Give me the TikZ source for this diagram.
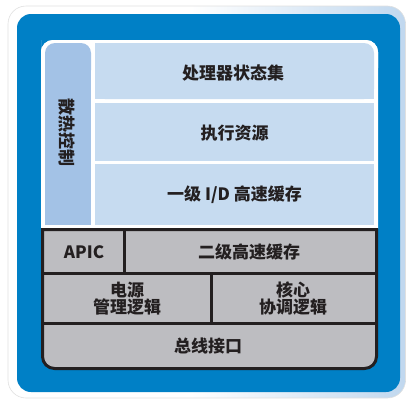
\documentclass[tikz,border=0pt]{standalone}
\usepackage{fontspec}
\setmainfont{Noto Sans CJK SC}
\usetikzlibrary{shadings}
\definecolor{bluebg}{HTML}{0080C6}
\definecolor{cellc}{HTML}{C6DBF0}
\definecolor{heatc}{HTML}{A3C2E6}
\definecolor{grayc}{HTML}{BDBDC1}
\definecolor{txt}{HTML}{231F20}
\definecolor{framec}{HTML}{86B3DF}
\pgfdeclarehorizontalshading{frameshade}{100bp}{color(0bp)=(white); color(48bp)=(white); color(100bp)=(framec)}
\tikzset{
  lbl/.style={text=txt, font=\fontsize{17}{17}\selectfont\bfseries, align=center, inner sep=0pt},
  blk/.style={draw=txt, line width=3pt},
}
\begin{document}
\begin{tikzpicture}[x=1pt,y=-1pt]
\useasboundingbox (0,0) rectangle (406,399);
% outer frame
\path[shading=frameshade, draw=black!12, line width=0.6pt, rounded corners=18] (8,6) rectangle (405.5,398);
% blue panel
\fill[bluebg, rounded corners=14] (17,14) rectangle (400,392);
% white inner (top)
\fill[white] (41,52) -- (41,229) -- (378,229) -- (378,52) [rounded corners=12] -- (378,40) -- (41,40) -- cycle;
\fill[white, rounded corners=12] (41,40) rectangle (378,80);
% heat column
\fill[heatc, rounded corners=10] (45,43) rectangle (91,80);
\fill[heatc] (45,60) rectangle (91,225);
% cells
\fill[cellc, rounded corners=10] (95,43) rectangle (374,99);
\fill[cellc] (95,43) rectangle (300,99);
\fill[cellc] (95,70) rectangle (374,99);
\path[fill=cellc] (95,103) rectangle (374,161);
\path[fill=cellc] (95,164) rectangle (374,225);
% gray section
\draw[blk, fill=grayc] (42.5,260) -- (42.5,229.5) -- (376.5,229.5) -- (376.5,260) [rounded corners=12] -- (376.5,368.5) -- (42.5,368.5) -- cycle;
\draw[blk] (42.5,273) -- (376.5,273);
\draw[blk] (42.5,323.5) -- (376.5,323.5);
\draw[blk] (124,229.5) -- (124,273);
\draw[blk] (211,273) -- (211,323.5);
% labels
\node[lbl, rotate=-90] (heat) at (67,132) {散热控制};
\node[lbl] (state) at (233,73) {处理器状态集};
\node[lbl] (exec) at (234.5,133) {执行资源};
\node[lbl] (l1) at (234.5,195) {一级 I/D 高速缓存};
\node[lbl] (apic) at (84,252) {APIC};
\node[lbl] (l2) at (249,252) {二级高速缓存};
\node[lbl] (pwr) at (127,299) {电源\\管理逻辑};
\node[lbl] (core) at (293,299) {核心\\协调逻辑};
\node[lbl] (bus) at (208,346) {总线接口};
\end{tikzpicture}
\end{document}
